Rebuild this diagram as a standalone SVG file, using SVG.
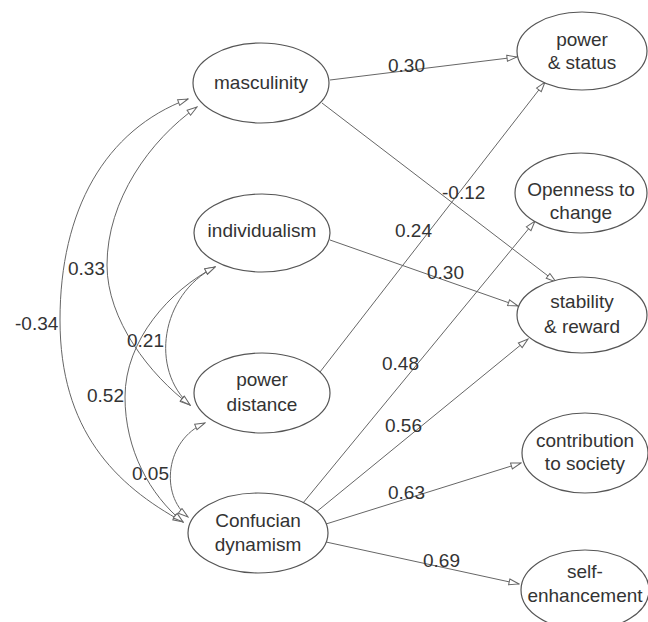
<svg xmlns="http://www.w3.org/2000/svg" width="648" height="622" viewBox="0 0 648 622">
<style>
.node ellipse{fill:#fff;stroke:#555;stroke-width:1.2}
.node text{font-family:"Liberation Sans",Arial,sans-serif;font-size:19px;fill:#333;text-anchor:middle}
.edges path{fill:none;stroke:#666;stroke-width:1}
.lbl{font-family:"Liberation Sans",Arial,sans-serif;font-size:19px;fill:#333}
</style>
<defs>
<marker id="ah" viewBox="0 0 12 8" refX="11" refY="4" markerWidth="12" markerHeight="8" markerUnits="userSpaceOnUse" orient="auto-start-reverse">
<path d="M1,1 L11,4 L1,7 z" fill="#fff" stroke="#666" stroke-width="1"/>
</marker>
</defs>
<rect width="648" height="622" fill="#fff"/>
<g class="edges">
<path d="M188 99 C105 130, 60 210, 60 320 C60 430, 115 485, 183 522" marker-start="url(#ah)" marker-end="url(#ah)"/>
<path d="M197 107 C150 140, 107 200, 107 265 C107 320, 150 375, 190 405" marker-start="url(#ah)" marker-end="url(#ah)"/>
<path d="M215 267 C170 290, 125 340, 125 397 C125 450, 150 495, 183 522" marker-start="url(#ah)" marker-end="url(#ah)"/>
<path d="M215 267 C160 295, 150 370, 190 405" marker-start="url(#ah)" marker-end="url(#ah)"/>
<path d="M205 423 C165 440, 160 495, 188 517" marker-start="url(#ah)" marker-end="url(#ah)"/>
<path d="M330 80 L517 57" marker-end="url(#ah)"/>
<path d="M322 103 L556 282" marker-end="url(#ah)"/>
<path d="M330 240 L518 306" marker-end="url(#ah)"/>
<path d="M320 372 L545 82" marker-end="url(#ah)"/>
<path d="M303 503 L535 221" marker-end="url(#ah)"/>
<path d="M315 513 L528 339" marker-end="url(#ah)"/>
<path d="M326 524 L521 463" marker-end="url(#ah)"/>
<path d="M326 542 L519 584" marker-end="url(#ah)"/>
</g>
<g class="labels">
<text class="lbl" x="388" y="72">0.30</text>
<text class="lbl" x="442" y="199">-0.12</text>
<text class="lbl" x="395" y="237">0.24</text>
<text class="lbl" x="427" y="279">0.30</text>
<text class="lbl" x="68" y="275">0.33</text>
<text class="lbl" x="15" y="330">-0.34</text>
<text class="lbl" x="127" y="347">0.21</text>
<text class="lbl" x="87" y="402">0.52</text>
<text class="lbl" x="382" y="370">0.48</text>
<text class="lbl" x="132" y="480">0.05</text>
<text class="lbl" x="385" y="432">0.56</text>
<text class="lbl" x="388" y="499">0.63</text>
<text class="lbl" x="423" y="567">0.69</text>
</g>
<g id="masculinity" class="node"><ellipse cx="261" cy="83" rx="68" ry="40"/><text x="261" y="89">masculinity</text></g>
<g id="individualism" class="node"><ellipse cx="262" cy="233" rx="68" ry="39"/><text x="262" y="237">individualism</text></g>
<g id="power-distance" class="node"><ellipse cx="262" cy="393" rx="68" ry="40"/><text x="262" y="386">power</text><text x="262" y="411">distance</text></g>
<g id="confucian" class="node"><ellipse cx="258" cy="533" rx="70" ry="40"/><text x="258" y="527">Confucian</text><text x="258" y="551">dynamism</text></g>
<g id="power-status" class="node"><ellipse cx="582" cy="51" rx="65" ry="39"/><text x="582" y="46">power</text><text x="582" y="69">&amp; status</text></g>
<g id="openness" class="node"><ellipse cx="581" cy="193" rx="66" ry="40"/><text x="581" y="196">Openness to</text><text x="581" y="219">change</text></g>
<g id="stability" class="node"><ellipse cx="582" cy="315" rx="65" ry="38"/><text x="582" y="308">stability</text><text x="582" y="333">&amp; reward</text></g>
<g id="contribution" class="node"><ellipse cx="585" cy="453" rx="63" ry="40"/><text x="585" y="447">contribution</text><text x="585" y="470">to society</text></g>
<g id="self-enhancement" class="node"><ellipse cx="585" cy="590" rx="64" ry="40"/><text x="585" y="578">self-</text><text x="585" y="602">enhancement</text></g>
</svg>
